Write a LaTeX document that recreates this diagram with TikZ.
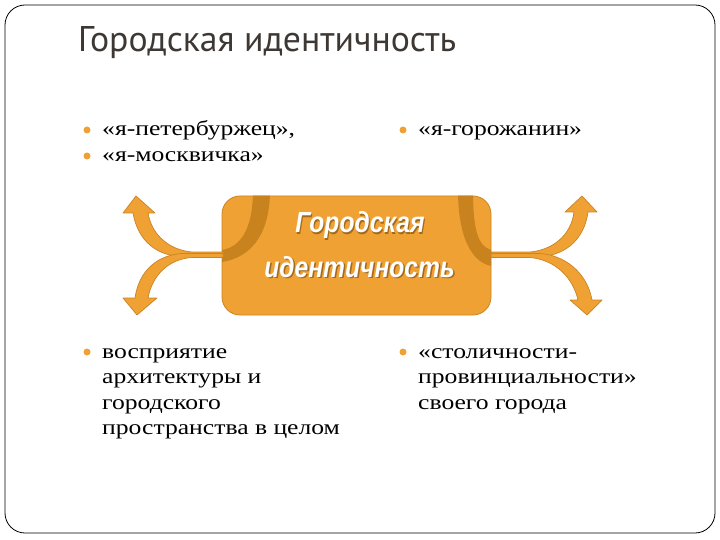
\documentclass[tikz,border=0pt]{standalone}
\usepackage{fontspec}
\setmainfont{Liberation Serif}[FakeStretch=1.22]
\newfontfamily\titlefont{PT Sans}
\newfontfamily\corefont{Liberation Sans}[FakeStretch=0.85]
\usetikzlibrary{positioning}

\definecolor{boxorange}{HTML}{F0A133}
\definecolor{boxedge}{HTML}{C98426}
\definecolor{arcbrown}{HTML}{C8831F}
\definecolor{titlegray}{HTML}{3E3834}

\begin{document}
\begin{tikzpicture}[x=1pt,y=-1pt]
    % Styles
    \tikzset{
        frame/.style={draw=black, line width=0.8pt, rounded corners=20pt},
        bullettext/.style={anchor=base west, inner sep=0pt, align=left, font=\fontsize{21}{25.5}\selectfont},
        dot/.style={circle, fill=boxorange, inner sep=0pt, minimum size=7pt},
        core/.style={draw=boxedge, fill=boxorange, rounded corners=18pt, line width=0.8pt, minimum width=269pt, minimum height=119pt},
        coretxt/.style={anchor=base, inner sep=0pt, text=white, font=\corefont\bfseries\itshape\fontsize{29}{43}\selectfont},
        coreshade/.style={coretxt, text=boxedge!80!black},
        band/.style={fill=boxorange, draw=boxedge, line width=0.7pt, line join=round}
    }
    \useasboundingbox (0,0) rectangle (720,540);
    \draw[frame] (5,5) rectangle (715,533);

    % Title
    \node[anchor=base west, inner sep=0pt, text=titlegray, font=\titlefont\fontsize{35.7}{40}\selectfont] (title) at (78,52) {Городская идентичность};

    % Bullets (base = last line)
    \node[dot] (dotpet) at (87,130) {};
    \node[dot] (dotmos) at (87,156) {};
    \node[bullettext] (pet) at (102,161.5) {«я-петербуржец»,\\«я-москвичка»};
    \node[dot] (dotgor) at (403,130) {};
    \node[bullettext] (gor) at (418,136) {«я-горожанин»};
    \node[dot] (dotarch) at (87,352) {};
    \node[bullettext] (arch) at (102,434.5) {восприятие\\архитектуры и\\городского\\пространства в целом};
    \node[dot] (dotstol) at (403,352) {};
    \node[bullettext] (stol) at (418,409) {«столичности-\\провинциальности»\\своего города};

    % Central box
    \node[core] (core) at (356.5,255.5) {};
    \begin{scope}
        \clip[rounded corners=18pt] (core.south west) rectangle (core.north east);
        \fill[arcbrown] (253,190) .. controls (253,230) and (240,247) .. (222,250)
            -- (222,262) .. controls (248,258) and (270,238) .. (270,190) -- cycle;
        \fill[arcbrown] (458,190) .. controls (458,238) and (472,262) .. (491,266)
            -- (491,250) .. controls (478,246) and (473,230) .. (473,190) -- cycle;
    \end{scope}
    \node[coreshade] (coreupsh) at (361,234.5) {Городская};
    \node[coreshade] (corelowsh) at (361,278.5) {идентичность};
    \node[coretxt] (coreup) at (360,233) {Городская};
    \node[coretxt] (corelow) at (359.5,277) {идентичность};

    % Arrows
    \filldraw[band] (223,252) -- (192,252) .. controls (170,250) and (152,236) .. (148,213)
        -- (155,213) -- (136,196) -- (123,213) -- (133,213)
        .. controls (138,242) and (158,256) .. (182,256.5) -- (223,256.5) -- cycle;
    \filldraw[band] (223,253.5) -- (182,253.5) .. controls (158,255) and (139,270) .. (135,298)
        -- (123,298) -- (137,315) -- (157,298) -- (148,298)
        .. controls (152,276) and (168,259) .. (192,257.5) -- (223,257.5) -- cycle;
    \filldraw[band] (491,252) -- (530,252) .. controls (552,250) and (571,236) .. (574,212)
        -- (565,212) -- (582,196) -- (597,212) -- (588,212)
        .. controls (584,242) and (562,256) .. (540,256.5) -- (491,256.5) -- cycle;
    \filldraw[band] (491,253.5) -- (540,253.5) .. controls (564,255) and (587,272) .. (592,300)
        -- (602,300) -- (587,315) -- (570,300) -- (578,300)
        .. controls (573,278) and (556,260) .. (530,257.5) -- (491,257.5) -- cycle;
\end{tikzpicture}
\end{document}
